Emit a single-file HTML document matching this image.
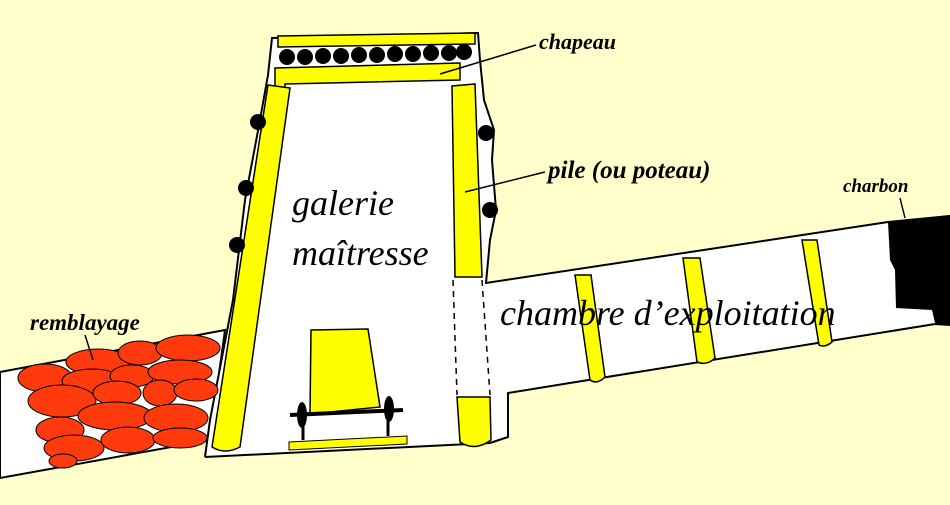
<!DOCTYPE html>
<html><head><meta charset="utf-8"><style>
html,body{margin:0;padding:0;background:#ffffcc;}
svg{display:block}
text{font-family:"Liberation Serif",serif;font-style:italic;fill:#000}
</style></head><body>
<svg width="950" height="505" viewBox="0 0 950 505" xmlns="http://www.w3.org/2000/svg">
<rect width="950" height="505" fill="#ffffcc"/>
<!-- remblayage tunnel -->
<path d="M0,372 L225,330 L210,440 L0,478 Z" fill="#fff" stroke="#000" stroke-width="2"/>
<!-- main + chamber fill -->
<path d="M205,457 L210,420 L233,300 L245,200 L260,120 L268,75 L272,38 L478,33 L480,60 L484,100 L494,130 L492,160 L496,210 L490,240 L486,283 L888,222 L950,216 L950,325 L935,324 L508,393 L508,437 L490,443 Z" fill="#fff"/>
<g stroke="#000" stroke-width="2" fill="none">
<path d="M205,457 L210,420 L233,300 L245,200 L260,120 L268,75 L272,38 L478,33 L480,60 L484,100 L494,130 L492,160 L496,210 L490,240 L486,283 L888,222 L950,216"/>
<path d="M950,325 L935,324 L508,393 L508,437 L490,443 L205,457"/>
</g>
<!-- charbon -->
<path d="M888,222 L950,215 L950,325 L935,323 L932,310 L896,308 L895,270 L890,260 Z" fill="#000"/>
<!-- chapeau -->
<path d="M278,36 L475,33 L475,44 L278,47 Z" fill="#ff0" stroke="#000" stroke-width="1.5"/>
<g fill="#000">
<circle cx="287" cy="57" r="8"/><circle cx="305" cy="57" r="8"/><circle cx="323" cy="56" r="8"/><circle cx="341" cy="56" r="8"/><circle cx="359" cy="55" r="8"/><circle cx="377" cy="55" r="8"/><circle cx="395" cy="54" r="8"/><circle cx="413" cy="54" r="8"/><circle cx="431" cy="53" r="8"/><circle cx="449" cy="53" r="8"/><circle cx="464" cy="52" r="8"/>
</g>
<path d="M275,68 L460,63 L460,80 L285,84 L285,92 L275,92 Z" fill="#ff0" stroke="#000" stroke-width="1.5"/>
<!-- posts -->
<path d="M268,85 L290,88 L240,447 Q225,455 212,447 Z" fill="#ff0" stroke="#000" stroke-width="1.5"/>
<path d="M452,86 L475,84 L482,277 L455,277 Z" fill="#ff0" stroke="#000" stroke-width="1.5"/>
<path d="M457,397 L490,397 L491,440 Q475,452 460,442 Z" fill="#ff0" stroke="#000" stroke-width="1.5"/>
<line x1="453" y1="280" x2="457" y2="395" stroke="#000" stroke-width="1.5" stroke-dasharray="6,5"/>
<line x1="482" y1="280" x2="490" y2="395" stroke="#000" stroke-width="1.5" stroke-dasharray="6,5"/>
<g fill="#000">
<circle cx="258" cy="122" r="8"/><circle cx="246" cy="188" r="8"/><circle cx="237" cy="245" r="8"/>
<circle cx="486" cy="133" r="8"/><circle cx="490" cy="210" r="8"/>
</g>
<!-- chamber pillars -->
<path d="M575,275 L591,275 L605,377 Q597,385 590,380 Z" fill="#ff0" stroke="#000" stroke-width="1.5"/>
<path d="M683,258 L700,258 L715,358 Q707,366 697,362 Z" fill="#ff0" stroke="#000" stroke-width="1.5"/>
<path d="M802,240 L817,240 L832,342 Q825,348 819,345 Z" fill="#ff0" stroke="#000" stroke-width="1.5"/>
<!-- cart -->
<path d="M311,330 L368,329 L380,407 L310,414 Z" fill="#ff0" stroke="#000" stroke-width="1.5"/>
<line x1="290" y1="415" x2="403" y2="410" stroke="#000" stroke-width="4"/>
<ellipse cx="302" cy="415" rx="5" ry="13" fill="#000"/>
<ellipse cx="389" cy="409" rx="5" ry="13" fill="#000"/>
<line x1="303" y1="425" x2="303" y2="440" stroke="#000" stroke-width="3"/>
<line x1="388" y1="420" x2="388" y2="436" stroke="#000" stroke-width="3"/>
<path d="M289,442 L407,436 L407,444 L289,450 Z" fill="#ff0" stroke="#000" stroke-width="1"/>
<!-- remblayage stones -->
<g fill="#ff3b0d" stroke="#000" stroke-width="1">
<ellipse cx="45" cy="378" rx="27" ry="14"/><ellipse cx="98" cy="362" rx="32" ry="13"/><ellipse cx="140" cy="353" rx="22" ry="12"/><ellipse cx="188" cy="348" rx="32" ry="13"/>
<ellipse cx="92" cy="381" rx="30" ry="12"/><ellipse cx="132" cy="376" rx="22" ry="11"/><ellipse cx="180" cy="372" rx="32" ry="12"/>
<ellipse cx="62" cy="401" rx="34" ry="16"/><ellipse cx="117" cy="393" rx="24" ry="12"/><ellipse cx="160" cy="393" rx="17" ry="13"/><ellipse cx="196" cy="390" rx="22" ry="11"/>
<ellipse cx="60" cy="430" rx="24" ry="13"/><ellipse cx="115" cy="416" rx="37" ry="14"/><ellipse cx="176" cy="418" rx="32" ry="14"/>
<ellipse cx="74" cy="448" rx="30" ry="13"/><ellipse cx="128" cy="440" rx="27" ry="13"/><ellipse cx="180" cy="438" rx="27" ry="10"/>
<ellipse cx="63" cy="461" rx="14" ry="7"/>
</g>
<!-- leaders -->
<g stroke="#000" stroke-width="1.5" fill="none">
<line x1="536" y1="45" x2="440" y2="74"/>
<line x1="545" y1="172" x2="465" y2="192"/>
<line x1="900" y1="198" x2="905" y2="218"/>
<line x1="85" y1="335" x2="93" y2="360"/>
</g>
<!-- text -->
<text x="539" y="49" font-size="22" font-weight="bold">chapeau</text>
<text x="548" y="178" font-size="25" font-weight="bold">pile (ou poteau)</text>
<text x="843" y="192" font-size="19" font-weight="bold">charbon</text>
<text x="30" y="330" font-size="23" font-weight="bold">remblayage</text>
<text x="292" y="215" font-size="36">galerie</text>
<text x="292" y="265" font-size="36">maîtresse</text>
<text x="500" y="325" font-size="36">chambre d’exploitation</text>
</svg>
</body></html>
